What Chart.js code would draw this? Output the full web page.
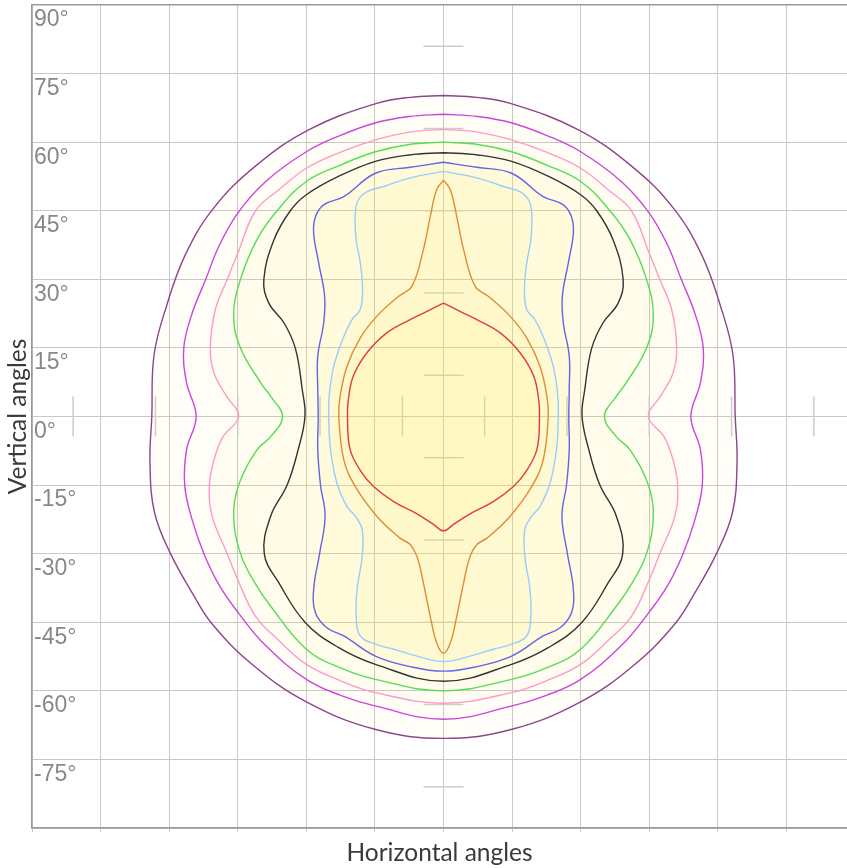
<!DOCTYPE html>
<html>
<head>
<meta charset="utf-8">
<script src="https://cdn.jsdelivr.net/npm/chart.js@4.4.0/dist/chart.umd.min.js"></script>
<style>
body{margin:0;background:#fff}
#wrap{width:847px;height:868px;position:relative}
</style>
</head>
<body>
<div id="wrap"><canvas id="myChart"></canvas></div>
<script>
// axis ticks, degrees
var yTicks = [90,75,60,45,30,15,0,-15,-30,-45,-60,-75,-90];
var xTicks = [-90,-75,-60,-45,-30,-15,0,15,30,45,60,75];
// little cross marks along the two centre lines
var markAngles = [-81,-63,-45,-27,-9,9,27,45,63,81];

// contours [horizontal angle, vertical angle], inner to outer
var red = [[0,24.8],[3.6,23],[7.3,21.2],[12.4,18.3],[16.7,14],[19.7,8.9],[20.8,3.8],[21,0],[20.4,-7.3],[17.8,-12.4],[15.3,-15.3],[10.9,-18.6],[5.8,-21.3],[2.2,-23.6],[0,-25],
  [-2.2,-23.6],[-5.8,-21.3],[-10.9,-18.6],[-15.3,-15.3],[-17.8,-12.4],[-20.4,-7.3],[-21,0],[-20.8,3.8],[-19.7,8.9],[-16.7,14],[-12.4,18.3],[-7.3,21.2],[-3.6,23],[0,24.8]];
var orange = [[0,51.7],[1.5,49.6],[2.9,43.7],[4.4,36.5],[6.9,28.5],[9.8,26.3],[14.6,21.9],[18.2,17.2],[21.1,11],[22.6,4.5],[22.9,0],[21.8,-9.5],[19.3,-15.3],[14.6,-21.8],[9.5,-26.6],[7.3,-28],[5.8,-30.6],[4.4,-36.4],[2.9,-43.7],[1.5,-49.5],[0,-51.8],
  [-1.5,-49.5],[-2.9,-43.7],[-4.4,-36.4],[-5.8,-30.6],[-7.3,-28],[-9.5,-26.6],[-14.6,-21.8],[-19.3,-15.3],[-21.8,-9.5],[-22.9,0],[-22.6,4.5],[-21.1,11],[-18.2,17.2],[-14.6,21.9],[-9.8,26.3],[-6.9,28.5],[-4.4,36.5],[-2.9,43.7],[-1.5,49.6],[0,51.7]];
var lightBlue = [[0,53.6],[7.3,52.2],[13.1,50.3],[16.7,49.2],[18.6,47.4],[19.3,44.5],[19.1,38.6],[18.2,33.6],[17.7,27.7],[18.2,23.4],[20,21.2],[21.8,17.5],[24,11],[25,4.4],[25.1,0],[24.7,-7.3],[23.3,-14.6],[21.1,-19.7],[19.3,-21.8],[17.8,-24.7],[17.8,-30.6],[18.9,-37.8],[19.1,-43.7],[18.2,-48],[14.6,-49.9],[10.9,-50.9],[5.8,-52.4],[0,-53.6],
  [-5.8,-52.4],[-10.9,-50.9],[-14.6,-49.9],[-18.2,-48],[-19.1,-43.7],[-18.9,-37.8],[-17.8,-30.6],[-17.8,-24.7],[-19.3,-21.8],[-21.1,-19.7],[-23.3,-14.6],[-24.7,-7.3],[-25.1,0],[-25,4.4],[-24,11],[-21.8,17.5],[-20,21.2],[-18.2,23.4],[-17.7,27.7],[-18.2,33.6],[-19.1,38.6],[-19.3,44.5],[-18.6,47.4],[-16.7,49.2],[-13.1,50.3],[-7.3,52.2],[0,53.6]];
var blue = [[0,55.6],[7.3,54.5],[14.9,53.2],[21.8,48.1],[26.2,46.3],[28,43.7],[28.4,40.1],[27.3,33.6],[26,26.3],[26.2,20.5],[27.5,13.2],[27.5,5.9],[27.4,0],[27.5,-7.3],[26.9,-15],[25.9,-21.8],[27.1,-30],[28.4,-37.8],[28,-42.9],[25.5,-46.2],[21.8,-48],[14.9,-52.4],[7.3,-54.7],[0,-55.7],
  [-7.3,-54.7],[-14.9,-52.4],[-21.8,-48],[-25.5,-46.2],[-28,-42.9],[-28.4,-37.8],[-27.1,-30],[-25.9,-21.8],[-26.9,-15],[-27.5,-7.3],[-27.4,0],[-27.5,5.9],[-27.5,13.2],[-26.2,20.5],[-26,26.3],[-27.3,33.6],[-28.4,40.1],[-28,43.7],[-26.2,46.3],[-21.8,48.1],[-14.9,53.2],[-7.3,54.5],[0,55.6]];
var black = [[0,57.7],[7.5,57.2],[14.9,55.8],[23,52.5],[30,48.5],[33.5,45],[37.1,38.6],[39.3,29.9],[38.2,24.8],[34.9,20.5],[32.4,14.9],[30.9,5.9],[30.3,0],[31.8,-7.3],[34.2,-15],[37.8,-21.8],[39.2,-30],[36,-36.4],[30.2,-45.1],[23,-50.5],[14.9,-54.2],[0,-57.9],
  [-14.9,-54.2],[-23,-50.5],[-30.2,-45.1],[-36,-36.4],[-39.2,-30],[-37.8,-21.8],[-34.2,-15],[-31.8,-7.3],[-30.3,0],[-30.9,5.9],[-32.4,14.9],[-34.9,20.5],[-38.2,24.8],[-39.3,29.9],[-37.1,38.6],[-33.5,45],[-30,48.5],[-23,52.5],[-14.9,55.8],[-7.5,57.2],[0,57.7]];
var green = [[0,60],[7.5,59.5],[14.9,57.9],[22.5,55],[30,51.4],[36.4,45],[40.8,38.7],[44.4,30],[45.9,22],[44.4,15],[40,7.4],[37.8,4.4],[35.2,0],[37.8,-4.4],[40.8,-7.3],[44.8,-15],[45.9,-21.8],[44.4,-30],[41.5,-36],[37.8,-41.5],[30,-50.9],[22.5,-55],[14.9,-57.5],[0,-60],
  [-14.9,-57.5],[-22.5,-55],[-30,-50.9],[-37.8,-41.5],[-41.5,-36],[-44.4,-30],[-45.9,-21.8],[-44.8,-15],[-40.8,-7.3],[-37.8,-4.4],[-35.2,0],[-37.8,4.4],[-40,7.4],[-44.4,15],[-45.9,22],[-44.4,30],[-40.8,38.7],[-36.4,45],[-30,51.4],[-22.5,55],[-14.9,57.9],[-7.5,59.5],[0,60]];
var pink = [[0,62.8],[7.5,62.2],[14.9,60.5],[22.5,57.8],[30,54.3],[36,49.6],[41.1,45],[45,35.7],[47.3,30],[49.9,23.4],[51,15],[50.2,9.5],[47.5,4.5],[44.8,0],[48.3,-4.5],[50.2,-9.5],[51.2,-15],[50.6,-21.8],[47.3,-30],[45,-35.7],[41.1,-43.7],[36,-49],[30,-54.2],[22.5,-57.8],[14.9,-60.4],[0,-62.7],
  [-14.9,-60.4],[-22.5,-57.8],[-30,-54.2],[-36,-49],[-41.1,-43.7],[-45,-35.7],[-47.3,-30],[-50.6,-21.8],[-51.2,-15],[-50.2,-9.5],[-48.3,-4.5],[-44.8,0],[-47.5,4.5],[-50.2,9.5],[-51,15],[-49.9,23.4],[-47.3,30],[-45,35.7],[-41.1,45],[-36,49.6],[-30,54.3],[-22.5,57.8],[-14.9,60.5],[-7.5,62.2],[0,62.8]];
var magenta = [[0,66.1],[7.5,65.6],[15,64.2],[22.5,61.5],[30,57.9],[39,51.3],[45,44.5],[49,37.5],[52,30],[55,22.5],[56.8,15],[56.2,7.4],[54.1,0],[56.2,-7.3],[56.6,-15],[55,-22.5],[52.4,-30],[49,-37],[44.9,-42.9],[39,-50],[30,-57.5],[22.5,-61],[15,-63.3],[0,-66.2],
  [-15,-63.3],[-22.5,-61],[-30,-57.5],[-39,-50],[-44.9,-42.9],[-49,-37],[-52.4,-30],[-55,-22.5],[-56.6,-15],[-56.2,-7.3],[-54.1,0],[-56.2,7.4],[-56.8,15],[-55,22.5],[-52,30],[-49,37.5],[-45,44.5],[-39,51.3],[-30,57.9],[-22.5,61.5],[-15,64.2],[-7.5,65.6],[0,66.1]];
var purple = [[0,70.2],[7.3,69.8],[14.6,68.5],[29.3,62.8],[41.2,54.7],[50.4,45.4],[56.5,35.3],[60.5,24.4],[63.3,13.5],[63.8,0],[64.2,-10],[63.2,-21],[59.7,-30],[55,-38.5],[50.5,-45.5],[41.5,-54.5],[30,-62.4],[15,-68.4],[0,-70.4],
  [-15,-68.4],[-30,-62.4],[-41.5,-54.5],[-50.5,-45.5],[-55,-38.5],[-59.7,-30],[-63.2,-21],[-64.2,-10],[-63.8,0],[-63.3,13.5],[-60.5,24.4],[-56.5,35.3],[-50.4,45.4],[-41.2,54.7],[-29.3,62.8],[-14.6,68.5],[-7.3,69.8],[0,70.2]];

var contours = [red, orange, lightBlue, blue, black, green, pink, magenta, purple];
var lineColors = ['#e03c3c','#e08c33','#99ccff','#6464e6','#333333','#55dd55','#ff99cc','#cc44dd','#8c468c'];
var fillAlpha = [0.072,0.058,0.063,0.072,0.049,0.039,0.032,0.02,0.036];

var crossMarks = {
  id: 'crossMarks',
  beforeDatasetsDraw: function(chart) {
    var ctx = chart.ctx, xs = chart.scales.x, ys = chart.scales.y;
    var cx = xs.getPixelForValue(0), cy = ys.getPixelForValue(0);
    ctx.save();
    ctx.strokeStyle = '#cccccc';
    ctx.lineWidth = 1.5;
    markAngles.forEach(function(a) {
      var px = xs.getPixelForValue(a), py = ys.getPixelForValue(a);
      ctx.beginPath(); ctx.moveTo(px, cy - 20); ctx.lineTo(px, cy + 20); ctx.stroke();
      ctx.beginPath(); ctx.moveTo(cx - 20, py); ctx.lineTo(cx + 20, py); ctx.stroke();
    });
    ctx.restore();
  }
};

var datasets = contours.map(function(c, i) {
  return {
    data: c.map(function(p) { return {x: p[0], y: p[1]}; }),
    showLine: true,
    borderColor: lineColors[i],
    borderWidth: 1.4,
    backgroundColor: 'rgba(250,236,90,' + fillAlpha[i] + ')',
    fill: 'shape',
    tension: 0.4,
    pointRadius: 0,
    pointHoverRadius: 0
  };
});

new Chart('myChart', {
  type: 'scatter',
  data: {datasets: datasets},
  plugins: [crossMarks],
  options: {
    responsive: true,
    maintainAspectRatio: false,
    animation: false,
    events: [],
    layout: {padding: {top: 5, left: 0, right: 0, bottom: 0}},
    plugins: {legend: {display: false}, tooltip: {enabled: false}},
    scales: {
      x: {
        type: 'linear', min: -90, max: 88.25,
        afterBuildTicks: function(s) { s.ticks = xTicks.map(function(v) { return {value: v}; }); },
        afterFit: function(s) { s.height = 40; s.paddingLeft = 0; s.paddingRight = 0; },
        ticks: {display: false},
        grid: {color: '#c8c8c8', lineWidth: 1, tickLength: 4, drawTicks: true},
        border: {color: '#999999', width: 1.5},
        title: {display: true, text: 'Horizontal angles', color: '#3a3a3a', font: {family: 'Lato', size: 24.5}, padding: {top: 0, bottom: 0}}
      },
      y: {
        type: 'linear', min: -90, max: 90,
        afterBuildTicks: function(s) { s.ticks = yTicks.map(function(v) { return {value: v}; }); },
        afterFit: function(s) { s.width = 32; s.paddingTop = 0; s.paddingBottom = 0; },
        ticks: {
          mirror: true, padding: 2, labelOffset: 15, color: '#888888',
          font: {family: 'Liberation Sans', size: 23},
          callback: function(v) { return v === -90 ? '' : v + '°'; }
        },
        grid: {
          drawTicks: false,
          color: function(c) { return c.tick && c.tick.value === 90 ? '#999999' : '#c8c8c8'; },
          lineWidth: function(c) { return c.tick && c.tick.value === 90 ? 1.5 : 1; }
        },
        border: {color: '#999999', width: 1.5},
        title: {display: true, text: 'Vertical angles', color: '#3a3a3a', font: {family: 'Lato', size: 24.5}, padding: {top: 3, bottom: 0}}
      }
    }
  }
});
</script>
</body>
</html>
